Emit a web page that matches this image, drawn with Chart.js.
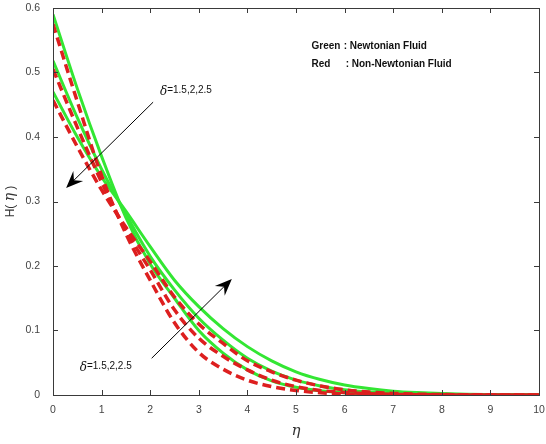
<!DOCTYPE html>
<html>
<head>
<meta charset="utf-8">
<script src="https://cdn.jsdelivr.net/npm/chart.js@4.4.1/dist/chart.umd.min.js"></script>
<style>
  html, body { margin: 0; padding: 0; background: #fff; }
  #wrap { width: 546px; height: 444px; position: relative; }
</style>
</head>
<body>
<div id="wrap"><canvas id="chart"></canvas></div>
<script>
const eta = [0, 0.5, 1, 1.5, 2, 2.5, 3, 3.5, 4, 4.5, 5, 5.5, 6, 6.5, 7, 7.5, 8, 8.5, 9, 9.5, 10];

// Green: Newtonian fluid, delta = 1.5, 2, 2.5
const greenD15 = [0.590, 0.475, 0.370, 0.275, 0.203, 0.150, 0.100, 0.065, 0.039, 0.022, 0.012, 0.0065, 0.0033, 0.0016, 0.0008, 0.0004, 0.0002, 0.0001, 0, 0, 0];
const greenD20 = [0.518, 0.430, 0.350, 0.280, 0.215, 0.163, 0.119, 0.085, 0.057, 0.037, 0.023, 0.014, 0.008, 0.0045, 0.0025, 0.0013, 0.0007, 0.0004, 0.0002, 0.0001, 0];
const greenD25 = [0.470, 0.400, 0.338, 0.285, 0.230, 0.178, 0.137, 0.103, 0.075, 0.053, 0.036, 0.024, 0.0155, 0.010, 0.006, 0.0037, 0.0022, 0.0013, 0.0008, 0.0004, 0.0002];

// Red: non-Newtonian fluid, delta = 1.5, 2, 2.5
const redD15 = [0.575, 0.455, 0.340, 0.250, 0.178, 0.112, 0.066, 0.040, 0.023, 0.013, 0.007, 0.0035, 0.0017, 0.0009, 0.0004, 0.0002, 0.0001, 0, 0, 0, 0];
const redD20 = [0.505, 0.415, 0.330, 0.255, 0.194, 0.132, 0.088, 0.060, 0.039, 0.023, 0.013, 0.007, 0.004, 0.002, 0.001, 0.0005, 0.0002, 0.0001, 0, 0, 0];
const redD25 = [0.457, 0.385, 0.318, 0.260, 0.207, 0.152, 0.110, 0.080, 0.053, 0.036, 0.023, 0.014, 0.008, 0.0045, 0.0025, 0.0013, 0.0007, 0.0004, 0.0002, 0.0001, 0];

const xTicks = [0, 1, 2, 3, 4, 5, 6, 7, 8, 9, 10];
const yTicks = [0, 0.1, 0.2, 0.3, 0.4, 0.5, 0.6];

const GREEN = '#33e633';
const RED = '#dd1f1f';
const AXIS = '#3a3a3a';

const toPoints = (ys) => ys.map((y, i) => ({ x: eta[i], y: y }));

function greenSet(ys) {
    return {
        data: toPoints(ys),
        borderColor: GREEN,
        borderWidth: 3,
        pointRadius: 0,
        cubicInterpolationMode: 'monotone',
        order: 2
    };
}
function redSet(ys) {
    return {
        data: toPoints(ys),
        borderColor: RED,
        borderWidth: 3.5,
        borderDash: [9, 5],
        pointRadius: 0,
        cubicInterpolationMode: 'monotone',
        order: 1
    };
}

// frame, inward ticks, titles and annotations
const decorations = {
    id: 'decorations',
    afterDraw(chart) {
        const { ctx, chartArea: a, scales: { x, y } } = chart;
        ctx.save();

        // box
        ctx.strokeStyle = AXIS;
        ctx.lineWidth = 1;
        ctx.strokeRect(Math.round(a.left) + 0.5, Math.round(a.top) + 0.5, Math.round(a.right - a.left), Math.round(a.bottom - a.top));

        // ticks pointing inward on all four sides
        const len = 5;
        ctx.beginPath();
        xTicks.forEach(v => {
            const px = Math.round(x.getPixelForValue(v)) + 0.5;
            ctx.moveTo(px, a.bottom); ctx.lineTo(px, a.bottom - len);
            ctx.moveTo(px, a.top); ctx.lineTo(px, a.top + len);
        });
        yTicks.forEach(v => {
            const py = Math.round(y.getPixelForValue(v)) + 0.5;
            ctx.moveTo(a.left, py); ctx.lineTo(a.left + len, py);
            ctx.moveTo(a.right, py); ctx.lineTo(a.right - len, py);
        });
        ctx.stroke();

        // axis titles
        ctx.fillStyle = '#333';
        ctx.font = 'italic 15px "DejaVu Serif", serif';
        ctx.textAlign = 'center';
        ctx.textBaseline = 'middle';
        ctx.fillText('η', (a.left + a.right) / 2, 431);

        ctx.save();
        ctx.translate(11, (a.top + a.bottom) / 2);
        ctx.rotate(-Math.PI / 2);
        ctx.textAlign = 'left';
        ctx.font = '12px "Liberation Sans", Arial, sans-serif';
        const part1 = 'H( ';
        const w1 = ctx.measureText(part1).width;
        ctx.font = 'italic 14px "DejaVu Serif", serif';
        const w2 = ctx.measureText('η').width;
        ctx.font = '12px "Liberation Sans", Arial, sans-serif';
        const w3 = ctx.measureText(' )').width;
        const sx = -(w1 + w2 + w3) / 2;
        ctx.fillText(part1, sx, 0);
        ctx.font = 'italic 14px "DejaVu Serif", serif';
        ctx.fillText('η', sx + w1, -1);
        ctx.font = '12px "Liberation Sans", Arial, sans-serif';
        ctx.fillText(' )', sx + w1 + w2, 0);
        ctx.restore();

        // legend text
        ctx.fillStyle = '#111';
        ctx.font = 'bold 10px "Liberation Sans", Arial, sans-serif';
        ctx.textAlign = 'left';
        ctx.textBaseline = 'middle';
        const lx = x.getPixelForValue(5.32);
        const cx = x.getPixelForValue(5.98);
        ctx.fillText('Green', lx, y.getPixelForValue(0.541));
        ctx.fillText(': Newtonian Fluid', cx, y.getPixelForValue(0.541));
        ctx.fillText('Red', lx, y.getPixelForValue(0.513));
        ctx.fillText(': Non-Newtonian Fluid', cx + 2, y.getPixelForValue(0.513));

        // arrows
        function arrow(x0, y0, x1, y1) {
            const p0 = [x.getPixelForValue(x0), y.getPixelForValue(y0)];
            const p1 = [x.getPixelForValue(x1), y.getPixelForValue(y1)];
            const ang = Math.atan2(p1[1] - p0[1], p1[0] - p0[0]);
            const c = Math.cos(ang), s = Math.sin(ang);
            const hl = 17, hw = 7;
            ctx.strokeStyle = '#000';
            ctx.lineWidth = 1;
            ctx.beginPath();
            ctx.moveTo(p0[0], p0[1]);
            ctx.lineTo(p1[0] - c * 8, p1[1] - s * 8);
            ctx.stroke();
            ctx.fillStyle = '#000';
            ctx.beginPath();
            ctx.moveTo(p1[0], p1[1]);
            ctx.lineTo(p1[0] - hl * c + hw * s, p1[1] - hl * s - hw * c);
            ctx.lineTo(p1[0] - 11 * c, p1[1] - 11 * s);
            ctx.lineTo(p1[0] - hl * c - hw * s, p1[1] - hl * s + hw * c);
            ctx.closePath();
            ctx.fill();
        }
        arrow(2.06, 0.454, 0.27, 0.321);
        arrow(2.03, 0.057, 3.68, 0.180);

        // delta labels
        function deltaLabel(vx, vy) {
            const px = x.getPixelForValue(vx), py = y.getPixelForValue(vy);
            ctx.fillStyle = '#111';
            ctx.textAlign = 'left';
            ctx.textBaseline = 'middle';
            ctx.font = 'italic 12px "DejaVu Serif", serif';
            ctx.fillText('δ', px, py + 2);
            const dw = ctx.measureText('δ').width;
            ctx.font = '10px "Liberation Sans", Arial, sans-serif';
            ctx.fillText('=1.5,2,2.5', px + dw, py);
        }
        deltaLabel(2.2, 0.473);
        deltaLabel(0.55, 0.045);

        ctx.restore();
    }
};

new Chart(document.getElementById('chart'), {
    type: 'line',
    data: {
        datasets: [
            greenSet(greenD15), greenSet(greenD20), greenSet(greenD25),
            redSet(redD15), redSet(redD20), redSet(redD25)
        ]
    },
    options: {
        responsive: true,
        maintainAspectRatio: false,
        animation: false,
        layout: { padding: { top: 8, right: 7, left: 0, bottom: 0 } },
        plugins: {
            legend: { display: false },
            tooltip: { enabled: false }
        },
        scales: {
            x: {
                type: 'linear',
                min: 0, max: 10,
                afterFit: s => { s.height = 49; s.paddingLeft = 0; s.paddingRight = 0; },
                afterBuildTicks: s => { s.ticks = xTicks.map(v => ({ value: v })); },
                grid: { display: false },
                border: { display: false },
                ticks: { color: '#444', padding: 1, font: { family: '"Liberation Sans", Arial, sans-serif', size: 10.5 } }
            },
            y: {
                min: 0, max: 0.6,
                afterFit: s => { s.width = 53; s.paddingTop = 0; s.paddingBottom = 0; },
                afterBuildTicks: s => { s.ticks = yTicks.map(v => ({ value: v })); },
                grid: { display: false },
                border: { display: false },
                ticks: { color: '#444', padding: 5, font: { family: '"Liberation Sans", Arial, sans-serif', size: 10.5 } }
            }
        }
    },
    plugins: [decorations]
});
</script>
</body>
</html>
